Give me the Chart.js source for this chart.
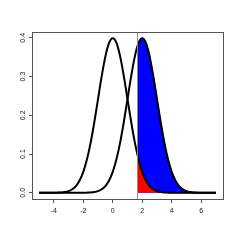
<!DOCTYPE html>
<html>
<head>
<meta charset="utf-8">
<script src="https://cdn.jsdelivr.net/npm/chart.js@4/dist/chart.umd.min.js"></script>
<style>
  html, body { margin: 0; padding: 0; background: #fff; }
  #wrap { width: 240px; height: 240px; }
</style>
</head>
<body>
<div id="wrap"><canvas id="densChart" width="240" height="240"></canvas></div>
<script>
const xGrid = [-5, -4.75, -4.5, -4.25, -4, -3.75, -3.5, -3.25, -3, -2.75, -2.5, -2.25, -2, -1.75, -1.5, -1.25,
  -1, -0.75, -0.5, -0.25, 0, 0.25, 0.5, 0.75, 1, 1.25, 1.5, 1.75, 2, 2.25, 2.5, 2.75, 3, 3.25, 3.5, 3.75,
  4, 4.25, 4.5, 4.75, 5, 5.25, 5.5, 5.75, 6, 6.25, 6.5, 6.75, 7];

// left curve (centred at 0)
const densH0 = [0, 0, 0, 0.0001, 0.0001, 0.0004, 0.0009, 0.0020, 0.0044, 0.0091, 0.0175, 0.0317, 0.0540, 0.0863, 0.1295, 0.1827,
  0.2420, 0.3011, 0.3521, 0.3867, 0.3989, 0.3867, 0.3521, 0.3011, 0.2420, 0.1827, 0.1295, 0.0863, 0.0540, 0.0317, 0.0175, 0.0091,
  0.0044, 0.0020, 0.0009, 0.0004, 0.0001, 0.0001, 0, 0, 0, 0, 0, 0, 0, 0, 0, 0, 0];

// right curve (centred at 2)
const densH1 = [0, 0, 0, 0, 0, 0, 0, 0, 0, 0, 0, 0.0001, 0.0001, 0.0004, 0.0009, 0.0020,
  0.0044, 0.0091, 0.0175, 0.0317, 0.0540, 0.0863, 0.1295, 0.1827, 0.2420, 0.3011, 0.3521, 0.3867, 0.3989, 0.3867, 0.3521, 0.3011,
  0.2420, 0.1827, 0.1295, 0.0863, 0.0540, 0.0317, 0.0175, 0.0091, 0.0044, 0.0020, 0.0009, 0.0004, 0.0001, 0.0001, 0, 0, 0];

// shaded tails right of the cut line
const cutoff = 1.645;
const tailX = [1.645, 1.75, 2, 2.25, 2.5, 2.75, 3, 3.25, 3.5, 3.75, 4, 4.25, 4.5, 4.75, 5, 5.25, 5.5, 5.75, 6, 6.25, 6.5, 6.75, 7];
const tailH1 = [0.3747, 0.3867, 0.3989, 0.3867, 0.3521, 0.3011, 0.2420, 0.1827, 0.1295, 0.0863, 0.0540, 0.0317, 0.0175, 0.0091,
  0.0044, 0.0020, 0.0009, 0.0004, 0.0001, 0.0001, 0, 0, 0];
const tailH0 = [0.1031, 0.0863, 0.0540, 0.0317, 0.0175, 0.0091, 0.0044, 0.0020, 0.0009, 0.0004, 0.0001, 0.0001,
  0, 0, 0, 0, 0, 0, 0, 0, 0, 0, 0];

// axis ticks
const xTicks = [-4, -2, 0, 2, 4, 6];
const xTickLabels = ['-4', '-2', '0', '2', '4', '6'];
const yTicks = [0, 0.1, 0.2, 0.3, 0.4];
const yTickLabels = ['0.0', '0.1', '0.2', '0.3', '0.4'];

const pts = (xs, ys) => xs.map((x, i) => ({ x: x, y: ys[i] }));

// box round the plot area + the grey cut line
const boxPlugin = {
    id: 'rBox',
    afterDatasetsDraw(chart) {
        const { ctx, chartArea: a, scales } = chart;
        const xc = Math.round(scales.x.getPixelForValue(cutoff)) + 0.5;
        ctx.save();
        ctx.strokeStyle = '#8a8a8a';
        ctx.lineWidth = 1;
        ctx.beginPath();
        ctx.moveTo(xc, a.top);
        ctx.lineTo(xc, a.bottom);
        ctx.stroke();
        ctx.restore();
    },
    afterDraw(chart) {
        const { ctx, chartArea: a } = chart;
        ctx.save();
        ctx.strokeStyle = '#555';
        ctx.lineWidth = 1;
        ctx.strokeRect(Math.round(a.left) + 0.5, Math.round(a.top) + 0.5,
            Math.round(a.right - a.left), Math.round(a.bottom - a.top));
        ctx.restore();
    }
};

const lineBase = { pointRadius: 0, cubicInterpolationMode: 'monotone' };

new Chart(document.getElementById('densChart').getContext('2d'), {
    type: 'line',
    data: {
        datasets: [
            { ...lineBase, data: pts(xGrid, densH0), borderColor: '#000', borderWidth: 2, fill: false },
            { ...lineBase, data: pts(xGrid, densH1), borderColor: '#000', borderWidth: 2, fill: false },
            { ...lineBase, data: pts(tailX, tailH0), borderColor: '#000', borderWidth: 1,
              backgroundColor: '#ff0000', fill: 'origin' },
            { ...lineBase, data: pts(tailX, tailH1), borderColor: '#000', borderWidth: 1,
              backgroundColor: '#0000ff', fill: 'origin' }
        ]
    },
    options: {
        responsive: false,
        animation: false,
        layout: { padding: { left: 0, top: 32, right: 17, bottom: 0 } },
        plugins: { legend: { display: false }, tooltip: { enabled: false } },
        scales: {
            x: {
                type: 'linear',
                min: -5.48,
                max: 7.48,
                afterBuildTicks: s => { s.ticks = xTicks.map(v => ({ value: v })); },
                afterFit: s => { s.height = 41; },
                grid: { drawOnChartArea: false, drawTicks: true, tickLength: 4, color: '#555' },
                border: { display: false },
                ticks: {
                    autoSkip: false, maxRotation: 0, padding: 4, color: '#222',
                    font: { family: 'Liberation Sans', size: 7 },
                    callback: (v, i) => xTickLabels[i]
                }
            },
            y: {
                type: 'linear',
                min: -0.016,
                max: 0.415,
                afterBuildTicks: s => { s.ticks = yTicks.map(v => ({ value: v })); },
                afterFit: s => { s.width = 32; },
                grid: { drawOnChartArea: false, drawTicks: true, tickLength: 3, color: '#555' },
                border: { display: false },
                ticks: {
                    autoSkip: false, minRotation: 90, maxRotation: 90, crossAlign: 'center', padding: 1,
                    color: '#222',
                    font: { family: 'Liberation Sans', size: 7 },
                    callback: (v, i) => yTickLabels[i]
                }
            }
        }
    },
    plugins: [boxPlugin]
});
</script>
</body>
</html>
